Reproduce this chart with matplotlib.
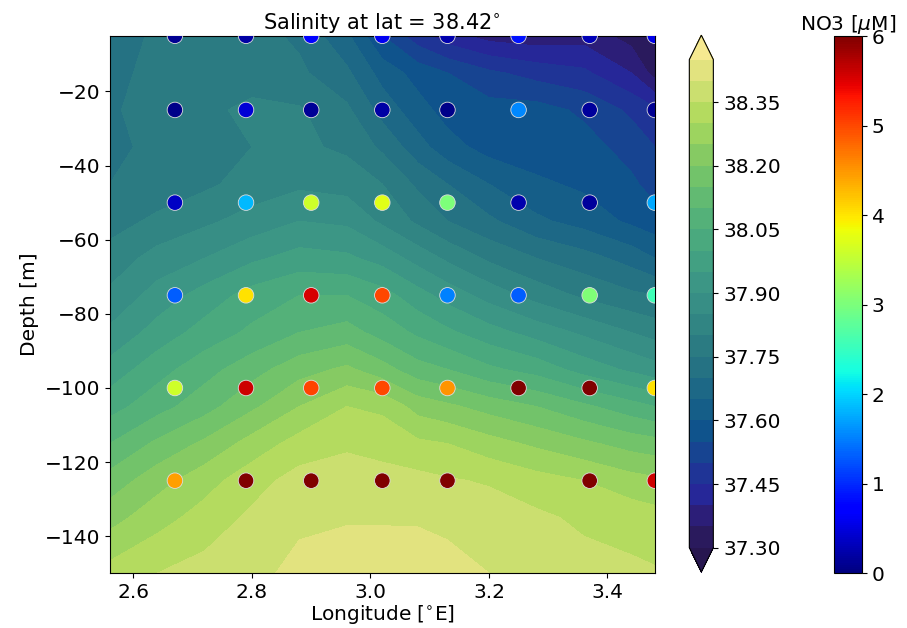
import numpy as np
import matplotlib
matplotlib.use("Agg")
import matplotlib.pyplot as plt
from matplotlib.colors import LinearSegmentedColormap

# salinity section (model grid)
lon_grid = [2.56, 2.64, 2.72, 2.80, 2.88, 2.96, 3.02, 3.08, 3.13, 3.20, 3.28, 3.36, 3.44, 3.48]
depth_grid = [-5, -15, -25, -35, -45, -55, -65, -75, -85, -95, -105, -115, -125, -135, -150]
salinity = [
    [37.72, 37.76, 37.77, 37.77, 37.74, 37.66, 37.55, 37.47, 37.42, 37.38, 37.37, 37.38, 37.33, 37.29],
    [37.73, 37.77, 37.78, 37.78, 37.76, 37.71, 37.63, 37.58, 37.55, 37.51, 37.48, 37.46, 37.40, 37.33],
    [37.74, 37.78, 37.79, 37.81, 37.805, 37.76, 37.68, 37.62, 37.58, 37.57, 37.57, 37.54, 37.49, 37.46],
    [37.74, 37.76, 37.78, 37.80, 37.81, 37.79, 37.74, 37.67, 37.62, 37.58, 37.57, 37.57, 37.53, 37.50],
    [37.75, 37.77, 37.79, 37.82, 37.84, 37.83, 37.80, 37.74, 37.70, 37.65, 37.61, 37.59, 37.56, 37.53],
    [37.78, 37.81, 37.84, 37.87, 37.90, 37.89, 37.84, 37.79, 37.75, 37.71, 37.66, 37.63, 37.59, 37.57],
    [37.82, 37.87, 37.90, 37.94, 37.97, 37.96, 37.93, 37.88, 37.84, 37.79, 37.75, 37.72, 37.68, 37.65],
    [37.86, 37.92, 37.97, 38.02, 38.05, 38.05, 38.02, 37.97, 37.93, 37.88, 37.83, 37.79, 37.76, 37.75],
    [37.91, 37.97, 38.02, 38.06, 38.10, 38.12, 38.08, 38.04, 38.01, 37.97, 37.93, 37.89, 37.85, 37.83],
    [37.97, 38.03, 38.08, 38.13, 38.18, 38.21, 38.17, 38.12, 38.10, 38.06, 38.03, 37.98, 37.94, 37.92],
    [38.03, 38.08, 38.13, 38.19, 38.25, 38.30, 38.29, 38.23, 38.21, 38.18, 38.15, 38.11, 38.07, 38.05],
    [38.10, 38.16, 38.21, 38.27, 38.32, 38.34, 38.33, 38.31, 38.30, 38.27, 38.24, 38.21, 38.18, 38.17],
    [38.17, 38.23, 38.28, 38.33, 38.37, 38.38, 38.37, 38.365, 38.355, 38.345, 38.32, 38.30, 38.27, 38.26],
    [38.23, 38.28, 38.32, 38.36, 38.39, 38.395, 38.395, 38.395, 38.39, 38.375, 38.36, 38.34, 38.33, 38.32],
    [38.32, 38.35, 38.37, 38.385, 38.415, 38.43, 38.43, 38.425, 38.415, 38.40, 38.385, 38.37, 38.36, 38.355],
]

# bottle stations (NO3)
st_lon = [2.67, 2.79, 2.90, 3.02, 3.13, 3.25, 3.37, 3.48]
st_depth = [-5, -25, -50, -75, -100, -125]
no3 = [
    [0.10, 0.20, 0.75, 0.60, 0.25, 0.85, 0.30, 0.55],
    [0.05, 0.46, 0.13, 0.20, 0.05, 1.55, 0.15, 0.10],
    [0.37, 1.83, 3.60, 3.74, 3.00, 0.25, 0.15, 1.75],
    [1.30, 4.03, 5.54, 5.00, 1.50, 1.30, 3.03, 2.57],
    [3.60, 5.58, 5.02, 5.00, 4.52, 6.00, 6.00, 4.03],
    [4.44, 6.00, 6.00, 6.00, 6.00, np.nan, 6.00, 5.58],
]

sal_levels = np.arange(37.30, 38.451, 0.05)
sal_ticks = np.arange(37.30, 38.351, 0.15)

# haline-like colours
haline_colors = ["#271650", "#2a1a5e", "#2c1e7a", "#26289a", "#1e3596", "#174491",
                 "#0f538c", "#155e88", "#1d6886", "#257283", "#2b7b82", "#318583",
                 "#378e85", "#3c9685", "#42a082", "#4aa97e", "#54b179", "#62ba72",
                 "#72c36a", "#86ca63", "#9bd35f", "#b2db5e", "#cadf6e", "#e0e27d",
                 "#f6e990"]
pos = [0.0] + [(k - 0.5) / 23 for k in range(1, 24)] + [1.0]
haline = LinearSegmentedColormap.from_list("haline", list(zip(pos, haline_colors)))


def main():
    plt.rcParams["font.size"] = 14.5

    fig = plt.figure(figsize=(9.07, 6.28), dpi=100)
    ax = fig.add_axes([0.121, 0.087, 0.601, 0.856])

    X, Y = np.meshgrid(lon_grid, depth_grid)
    cf = ax.contourf(X, Y, np.array(salinity), levels=sal_levels, cmap=haline, extend="both")

    sx, sy = np.meshgrid(st_lon, st_depth)
    c = np.array(no3)
    ok = ~np.isnan(c)
    sc = ax.scatter(sx[ok], sy[ok], c=c[ok], cmap="jet", vmin=0, vmax=6,
                    s=125, edgecolors="#dddddd", linewidths=0.6, zorder=3)

    ax.set_xlim(2.56, 3.48)
    ax.set_ylim(-150, -5)
    ax.set_xticks([2.6, 2.8, 3.0, 3.2, 3.4])
    ax.set_yticks([-20, -40, -60, -80, -100, -120, -140])
    ax.set_xlabel(r"Longitude [$^{\circ}$E]", labelpad=1)
    ax.set_ylabel("Depth [m]")
    ax.set_title(r"Salinity at lat = 38.42$^{\circ}$", fontsize=15, pad=5)

    cax1 = fig.add_axes([0.760, 0.089, 0.0265, 0.855])
    cb1 = fig.colorbar(cf, cax=cax1, ticks=sal_ticks)
    cb1.ax.set_yticklabels(["%.2f" % t for t in sal_ticks])

    cax2 = fig.add_axes([0.9195, 0.0875, 0.031, 0.855])
    cb2 = fig.colorbar(sc, cax=cax2)
    cb2.set_ticks([0, 1, 2, 3, 4, 5, 6])
    cax2.set_title(r"NO3 [$\mu$M]", fontsize=14.5, pad=4)

    fig.savefig("out.png", dpi=100)


if __name__ == "__main__":
    main()
